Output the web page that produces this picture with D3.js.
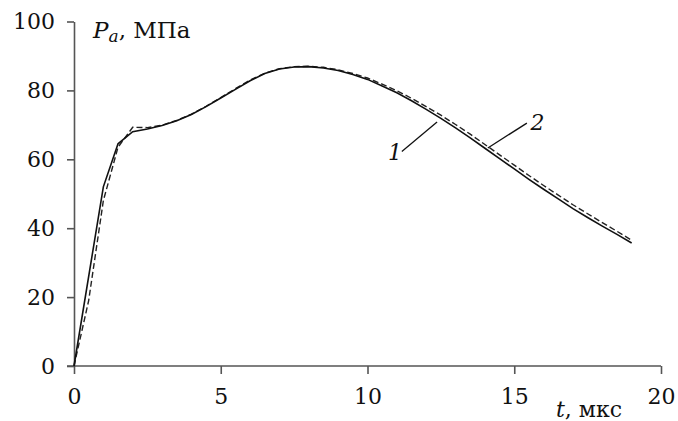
<!DOCTYPE html>
<html>
<head>
<meta charset="utf-8">
<script src="https://cdn.jsdelivr.net/npm/d3@7"></script>
<style>
body { margin: 0; background: #fff; }
svg { display: block; }
</style>
</head>
<body>
<svg id="chart" width="678" height="421"></svg>
<script>
// time, µs and pressure, MPa
const curve1 = [[0,0],[1,52],[1.5,64.5],[2,68],[2.5,68.8],[3,69.8],[3.5,71.2],[4,73],[4.5,75.3],[5,77.8],[5.5,80.3],[6,82.8],[6.5,84.9],[7,86.2],[7.5,86.8],[8,86.9],[8.5,86.5],[9,85.8],[9.5,84.6],[10,83.2],[10.5,81.3],[11,79.3],[11.5,77],[12,74.5],[12.5,71.9],[13,69.1],[13.5,66.2],[14,63.2],[14.5,60.2],[15,57.2],[15.5,54.2],[16,51.3],[16.5,48.5],[17,45.7],[17.5,43.1],[18,40.6],[18.5,38.2],[19,35.7]]
const curve2 = [[0,0],[0.5,19],[1,48],[1.5,63.5],[2,69.3],[2.5,69.2],[3,69.9],[3.5,71.3],[4,73.1],[4.5,75.4],[5,77.9],[5.5,80.5],[6,83],[6.5,85],[7,86.3],[7.5,86.9],[8,87],[8.5,86.7],[9,86],[9.5,84.9],[10,83.6],[10.5,81.8],[11,79.9],[11.5,77.7],[12,75.3],[12.5,72.8],[13,70.1],[13.5,67.3],[14,64.3],[14.5,61.3],[15,58.3],[15.5,55.3],[16,52.4],[16.5,49.6],[17,46.8],[17.5,44.2],[18,41.6],[18.5,39.1],[19,36.5]]
const xTicks = [0, 5, 10, 15, 20]
const yTicks = [0, 20, 40, 60, 80, 100]
// curve labels: text, label position, leader line end on the curve
const labels = [
  { text: '1', at: [10.7, 59.8], from: [11.17, 62.3], to: [12.37, 70.8] },
  { text: '2', at: [15.55, 68.5], from: [15.43, 70.5], to: [14.1, 63.3] }
]

const font = '"DejaVu Serif", serif'
const svg = d3.select('#chart').attr('font-family', font)
const x = d3.scaleLinear().domain([0, 20]).range([74, 661])
const y = d3.scaleLinear().domain([0, 100]).range([366, 21.5])
const axisColor = '#555'

const gx = svg.append('g').attr('transform', `translate(0,${y(0)})`)
  .call(d3.axisBottom(x).tickValues(xTicks).tickSize(8).tickSizeOuter(0).tickPadding(14))
const gy = svg.append('g').attr('transform', `translate(${x(0)},0)`)
  .call(d3.axisLeft(y).tickValues(yTicks).tickSize(7).tickSizeOuter(0).tickPadding(12))
gx.select('.domain').attr('d', `M${x(0) - 7},0H${x(20)}`)
;[gx, gy].forEach(g => {
  g.attr('font-family', font)
  g.selectAll('.domain, line').attr('stroke', axisColor).attr('stroke-width', 1.6)
  g.selectAll('text').attr('font-size', 22).attr('fill', '#111')
})
gy.selectAll('text').attr('dy', '0.33em')

const line = d3.line().x(d => x(d[0])).y(d => y(d[1]))
svg.append('path').datum(curve2).attr('d', line).attr('fill', 'none')
  .attr('stroke', '#222').attr('stroke-width', 1.4).attr('stroke-dasharray', '6,3')
svg.append('path').datum(curve1).attr('d', line).attr('fill', 'none')
  .attr('stroke', '#111').attr('stroke-width', 1.6)

labels.forEach(l => {
  svg.append('line').attr('x1', x(l.from[0])).attr('y1', y(l.from[1]))
    .attr('x2', x(l.to[0])).attr('y2', y(l.to[1])).attr('stroke', '#111').attr('stroke-width', 1.3)
  svg.append('text').attr('x', x(l.at[0])).attr('y', y(l.at[1]))
    .attr('font-size', 22).attr('font-style', 'italic').attr('fill', '#111').text(l.text)
})

const yl = svg.append('text').attr('x', 93).attr('y', 38).attr('font-size', 23).attr('fill', '#111')
yl.append('tspan').attr('font-style', 'italic').text('P')
yl.append('tspan').attr('font-style', 'italic').attr('font-size', 17).attr('dy', 4).text('a')
yl.append('tspan').attr('dy', -4).text(', МПа')

const xl = svg.append('text').attr('x', 556).attr('y', 417).attr('font-size', 22).attr('fill', '#111')
xl.append('tspan').attr('font-style', 'italic').text('t')
xl.append('tspan').text(', мкс')
</script>
</body>
</html>
